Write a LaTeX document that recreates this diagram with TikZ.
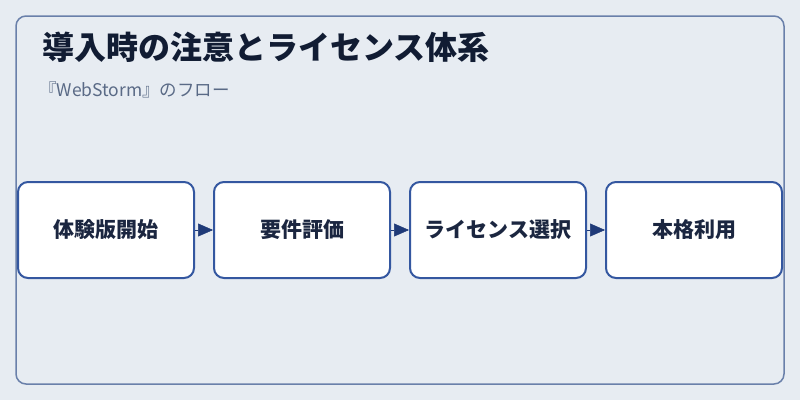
\documentclass[tikz,border=0pt]{standalone}
\usepackage{fontspec}
\setmainfont{Noto Sans CJK JP}
\usepackage{tikz}
\usetikzlibrary{arrows.meta}
\definecolor{bgcol}{HTML}{E7ECF2}
\definecolor{framecol}{HTML}{6A80AA}
\definecolor{boxcol}{HTML}{3457A0}
\definecolor{arrowcol}{HTML}{1F3A78}
\definecolor{titlecol}{HTML}{111C33}
\definecolor{subcol}{HTML}{5A6A86}
\definecolor{textcol}{HTML}{1B2640}

\begin{document}
\begin{tikzpicture} [x=1pt, y=-1pt,
  flowbox/.style={draw=boxcol, line width=2pt, fill=white, rounded corners=10pt,
    minimum width=176pt, minimum height=96pt, inner sep=0pt,
    text=textcol, font=\fontsize{21pt}{25pt}\selectfont\bfseries},
  flowarrow/.style={draw=arrowcol, line width=0.5pt,
    -{Triangle[length=15pt, width=13pt]}, fill=arrowcol}]
\fill[bgcol] (0,0) rectangle (800,400);
\draw[framecol, line width=1.5pt, rounded corners=10pt] (16,16) rectangle (784,384);

\draw (42,59) node (title) [anchor=base west, inner sep=0pt, text=titlecol]
  {\fontsize{32pt}{36pt}\selectfont\bfseries 導入時の注意とライセンス体系};
\draw (39,96) node (sub) [anchor=base west, inner sep=0pt, text=subcol]
  {\fontsize{17.5pt}{20pt}\selectfont 『WebStorm』のフロー};

\draw (106,230) node (trial) [flowbox] {体験版開始};
\draw (302,230) node (eval)  [flowbox] {要件評価};
\draw (498,230) node (lic)   [flowbox] {ライセンス選択};
\draw (694,230) node (use)   [flowbox] {本格利用};

\draw[flowarrow] (trial) -- (eval);
\draw[flowarrow] (eval) -- (lic);
\draw[flowarrow] (lic) -- (use);
\end{tikzpicture}
\end{document}
